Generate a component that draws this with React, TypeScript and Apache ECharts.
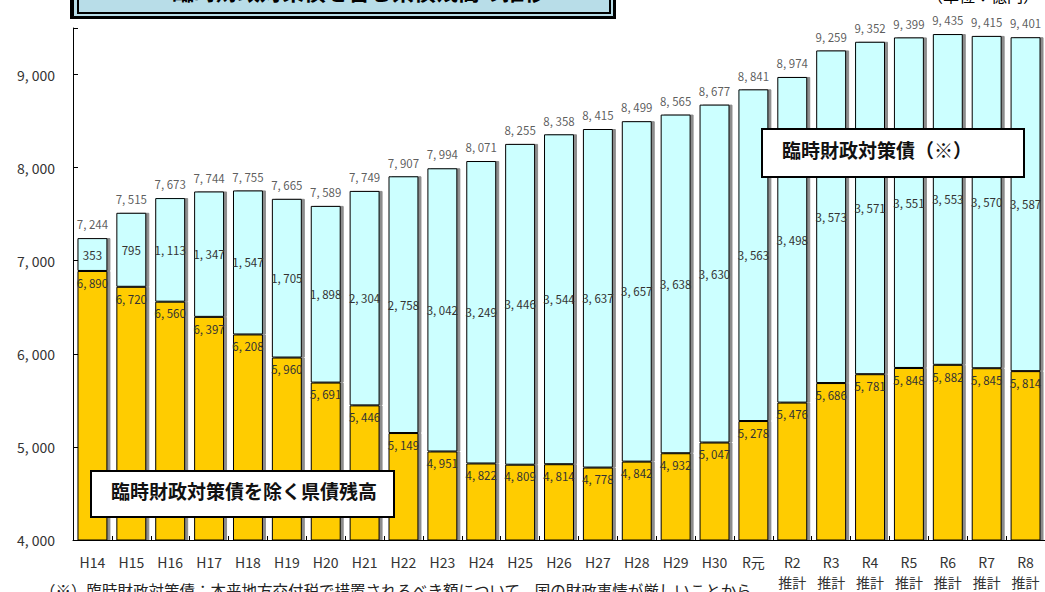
import React, { useEffect, useRef } from "react";
import * as echarts from "echarts";

const categories = ["H14","H15","H16","H17","H18","H19","H20","H21","H22","H23","H24","H25","H26","H27","H28","H29","H30","R元","R2\n推計","R3\n推計","R4\n推計","R5\n推計","R6\n推計","R7\n推計","R8\n推計"];
const baseDebt = [6890,6720,6560,6397,6208,5960,5691,5446,5149,4951,4822,4809,4814,4778,4842,4932,5047,5278,5476,5686,5781,5848,5882,5845,5814];
const rinzaiDebt = [353,795,1113,1347,1547,1705,1898,2304,2758,3042,3249,3446,3544,3637,3657,3638,3630,3563,3498,3573,3571,3551,3553,3570,3587];
const totals = [7244,7515,7673,7744,7755,7665,7589,7749,7907,7994,8071,8255,8358,8415,8499,8565,8677,8841,8974,9259,9352,9399,9435,9415,9401];
const yTicks = [4000, 5000, 6000, 7000, 8000, 9000];

const fmt = (v: number) => v.toLocaleString("en-US").replace(/,/g, ", ");
const FONT = "'Noto Sans CJK JP', 'DejaVu Sans', sans-serif";

export default function App() {
  const ref = useRef<HTMLDivElement>(null);
  useEffect(() => {
    if (!ref.current) return;
    const chart = echarts.init(ref.current, undefined, { renderer: "svg" });
    const shadow = { shadowColor: "rgba(0,0,0,0.45)", shadowOffsetX: 3, shadowOffsetY: 0, shadowBlur: 0 };
    chart.setOption({
      animation: false,
      textStyle: { fontFamily: FONT },
      grid: { left: 73, top: 28, width: 976, bottom: 47, containLabel: false },
      xAxis: {
        type: "category",
        data: categories,
        axisLine: { lineStyle: { color: "#000", width: 1 } },
        axisTick: { show: true, inside: true, length: 4, lineStyle: { color: "#000" } },
        axisLabel: { color: "#333", fontSize: 14, fontFamily: FONT, margin: 12, lineHeight: 20, verticalAlign: "top" },
      },
      yAxis: {
        type: "value",
        min: yTicks[0],
        max: 9500,
        interval: 1000,
        splitLine: { show: false },
        axisLine: { show: true, lineStyle: { color: "#000", width: 1 } },
        axisTick: { show: true, inside: true, length: 5, lineStyle: { color: "#000" } },
        axisLabel: {
          color: "#333", fontSize: 14, margin: 18, fontFamily: FONT,
          formatter: (v: number) => (yTicks.includes(v) ? fmt(v) : ""),
        },
      },
      series: [
        {
          type: "bar",
          stack: "t",
          data: baseDebt,
          barWidth: "77%",
          itemStyle: { color: "#FFCC00", borderColor: "#000", borderWidth: 1, ...shadow },
          label: {
            show: true, position: "insideTop", distance: 6, color: "#333", fontSize: 11.5,
            formatter: (p: any) => fmt(p.value),
          },
        },
        {
          type: "bar",
          stack: "t",
          data: rinzaiDebt,
          itemStyle: { color: "#CCFFFF", borderColor: "#000", borderWidth: 1, ...shadow },
          label: {
            show: true, position: "inside", color: "#333", fontSize: 11.5,
            formatter: (p: any) => fmt(p.value),
          },
        },
        {
          type: "scatter",
          data: totals,
          symbolSize: 0,
          itemStyle: { color: "transparent" },
          label: {
            show: true, position: "top", distance: 8, color: "#333", fontSize: 11.5,
            formatter: (p: any) => fmt(p.value),
          },
        },
      ],
      graphic: [
        {
          type: "rect", left: 70, top: -20, shape: { width: 546, height: 39 },
          style: { fill: "#000" }, z: 10,
        },
        {
          type: "rect", left: 73, top: -20, shape: { width: 540, height: 36 },
          style: { fill: "#B8DDE8", stroke: "#000", lineWidth: 1 }, z: 11,
        },
        {
          type: "rect", left: 77, top: -20, shape: { width: 532, height: 32 },
          style: { fill: "#B8DDE8", stroke: "#000", lineWidth: 2 }, z: 12,
        },
        {
          type: "text", left: 172, top: -21,
          style: { text: "臨時財政対策債を含む県債残高の推移", font: `bold 22px ${FONT}`, fill: "#000" }, z: 13,
        },
        {
          type: "text", right: 6, top: -13,
          style: { text: "（単位：億円）", font: `16px ${FONT}`, fill: "#000" }, z: 13,
        },
        {
          type: "rect", left: 761, top: 128, shape: { width: 262, height: 48 },
          style: { fill: "#fff", stroke: "#000", lineWidth: 2 }, z: 10,
        },
        {
          type: "text", left: 782, top: 140,
          style: { text: "臨時財政対策債（※）", font: `bold 19px ${FONT}`, fill: "#111" }, z: 11,
        },
        {
          type: "rect", left: 90, top: 470, shape: { width: 303, height: 46 },
          style: { fill: "#fff", stroke: "#000", lineWidth: 2 }, z: 10,
        },
        {
          type: "text", left: 111, top: 481,
          style: { text: "臨時財政対策債を除く県債残高", font: `bold 19px ${FONT}`, fill: "#111" }, z: 11,
        },
        {
          type: "text", left: 40, top: 582,
          style: { text: "（※）臨時財政対策債：本来地方交付税で措置されるべき額について、国の財政事情が厳しいことから", font: `15.5px ${FONT}`, fill: "#222" }, z: 11,
        },
      ],
    });
    return () => chart.dispose();
  }, []);
  return <div ref={ref} style={{ width: 1045, height: 592, position: "absolute", left: 0, top: 0 }} />;
}
